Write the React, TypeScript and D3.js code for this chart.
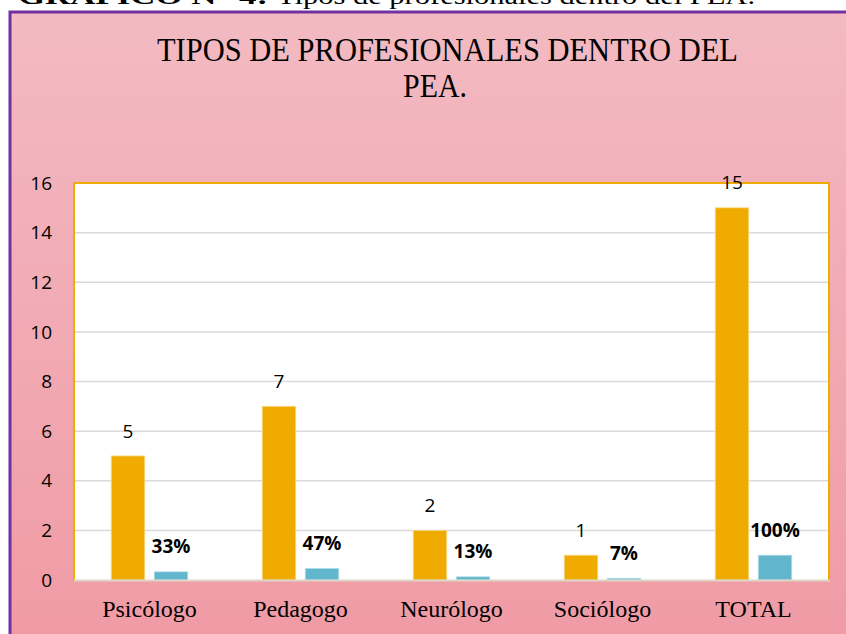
import React, { useEffect, useRef } from 'react';
import * as d3 from 'd3';

const categories = ['Psicólogo', 'Pedagogo', 'Neurólogo', 'Sociólogo', 'TOTAL'];
const counts = [5, 7, 2, 1, 15];
const shares = [0.33, 0.47, 0.13, 0.07, 1];
const shareLabels = ['33%', '47%', '13%', '7%', '100%'];
const yTicks = [0, 2, 4, 6, 8, 10, 12, 14, 16];

const App = () => {
  const svgRef = useRef<SVGSVGElement | null>(null);

  useEffect(() => {
    const W = 846;
    const H = 634;
    const plot = { left: 74, right: 829, top: 183, bottom: 580 };

    const svg = d3.select(svgRef.current).attr('width', W).attr('height', H).html('');

    // background gradient
    const defs = svg.append('defs');
    const grad = defs
      .append('linearGradient')
      .attr('id', 'bg')
      .attr('x1', 0)
      .attr('y1', 0)
      .attr('x2', 0)
      .attr('y2', 1);
    grad.append('stop').attr('offset', '0%').attr('stop-color', '#f3bac2');
    grad.append('stop').attr('offset', '100%').attr('stop-color', '#f09ba5');

    svg.append('rect').attr('width', W).attr('height', H).attr('fill', '#fff');

    // caption (cut off at top, as in the page it came from)
    svg
      .append('text')
      .attr('x', 18)
      .attr('y', 4)
      .attr('font-family', 'Liberation Serif, serif')
      .attr('font-size', 24)
      .attr('font-weight', 'bold')
      .attr('textLength', 250)
      .attr('lengthAdjust', 'spacingAndGlyphs')
      .text('GRÁFICO N° 4:');
    svg
      .append('text')
      .attr('x', 277)
      .attr('y', 4)
      .attr('font-family', 'Liberation Serif, serif')
      .attr('font-size', 24)
      .attr('textLength', 478)
      .attr('lengthAdjust', 'spacingAndGlyphs')
      .text('Tipos de profesionales dentro del PEA.');

    svg
      .append('rect')
      .attr('x', 10)
      .attr('y', 12)
      .attr('width', W - 10)
      .attr('height', H - 12)
      .attr('fill', 'url(#bg)');
    svg
      .append('path')
      .attr('d', `M10,${H} L10,12 L${W},12`)
      .attr('fill', 'none')
      .attr('stroke', '#7030a0')
      .attr('stroke-width', 3);

    // title, squeezed horizontally like the original
    svg
      .append('text')
      .attr('x', 157)
      .attr('y', 61)
      .attr('font-family', 'Liberation Serif, serif')
      .attr('font-size', 33)
      .attr('textLength', 581)
      .attr('lengthAdjust', 'spacingAndGlyphs')
      .text('TIPOS DE PROFESIONALES DENTRO DEL');
    svg
      .append('text')
      .attr('x', 403)
      .attr('y', 97)
      .attr('font-family', 'Liberation Serif, serif')
      .attr('font-size', 33)
      .attr('textLength', 64)
      .attr('lengthAdjust', 'spacingAndGlyphs')
      .text('PEA.');

    // scales
    const x = d3.scaleBand().domain(categories).range([plot.left, plot.right]);
    const y = d3.scaleLinear().domain([0, 16]).range([plot.bottom, plot.top]);
    const barW = 33.5;
    const offset = 21.5;

    svg
      .append('rect')
      .attr('x', plot.left)
      .attr('y', plot.top)
      .attr('width', plot.right - plot.left)
      .attr('height', plot.bottom - plot.top)
      .attr('fill', '#fff');

    // gridlines
    svg
      .append('g')
      .selectAll('line')
      .data(yTicks.filter(t => t > 0 && t < 16))
      .join('line')
      .attr('x1', plot.left)
      .attr('x2', plot.right)
      .attr('y1', d => y(d))
      .attr('y2', d => y(d))
      .attr('stroke', '#d9d9d9')
      .attr('stroke-width', 1.5);

    // y tick labels
    svg
      .append('g')
      .selectAll('text')
      .data(yTicks)
      .join('text')
      .attr('x', 52)
      .attr('y', d => y(d))
      .attr('dy', '0.35em')
      .attr('text-anchor', 'end')
      .attr('font-family', 'Open Sans, sans-serif')
      .attr('font-size', 19)
      .attr('fill', '#000')
      .text(d => d);

    // bars
    svg
      .append('g')
      .selectAll('rect')
      .data(categories)
      .join('rect')
      .attr('x', d => x(d)! + x.bandwidth() / 2 - offset - barW / 2)
      .attr('y', (d, i) => y(counts[i]))
      .attr('width', barW)
      .attr('height', (d, i) => plot.bottom - y(counts[i]))
      .attr('fill', '#f0ab00')
      .attr('stroke', '#f8d98a')
      .attr('stroke-width', 0.8);

    svg
      .append('g')
      .selectAll('rect')
      .data(categories)
      .join('rect')
      .attr('x', d => x(d)! + x.bandwidth() / 2 + offset - barW / 2)
      .attr('y', (d, i) => y(shares[i]))
      .attr('width', barW)
      .attr('height', (d, i) => plot.bottom - y(shares[i]))
      .attr('fill', '#61b5cd')
      .attr('stroke', '#b5dfea')
      .attr('stroke-width', 0.8);

    // plot border
    svg
      .append('path')
      .attr('d', `M${plot.left},${plot.bottom} L${plot.left},${plot.top} L${plot.right},${plot.top} L${plot.right},${plot.bottom}`)
      .attr('fill', 'none')
      .attr('stroke', '#f0ab00')
      .attr('stroke-width', 2);
    svg
      .append('line')
      .attr('x1', plot.left)
      .attr('x2', plot.right + 1)
      .attr('y1', plot.bottom + 0.5)
      .attr('y2', plot.bottom + 0.5)
      .attr('stroke', '#ddd6c8')
      .attr('stroke-width', 2);

    // value labels
    svg
      .append('g')
      .selectAll('text')
      .data(categories)
      .join('text')
      .attr('x', d => x(d)! + x.bandwidth() / 2 - offset)
      .attr('y', (d, i) => y(counts[i]) - 25)
      .attr('dy', '0.35em')
      .attr('text-anchor', 'middle')
      .attr('font-family', 'Open Sans, sans-serif')
      .attr('font-size', 19)
      .attr('fill', '#000')
      .text((d, i) => counts[i]);

    svg
      .append('g')
      .selectAll('text')
      .data(categories)
      .join('text')
      .attr('x', d => x(d)! + x.bandwidth() / 2 + offset)
      .attr('y', (d, i) => y(shares[i]) - 25)
      .attr('dy', '0.35em')
      .attr('text-anchor', 'middle')
      .attr('font-family', 'Open Sans, sans-serif')
      .attr('font-weight', 'bold')
      .attr('font-size', 19)
      .attr('fill', '#000')
      .text((d, i) => shareLabels[i]);

    // category labels
    svg
      .append('g')
      .selectAll('text')
      .data(categories)
      .join('text')
      .attr('x', d => x(d)! + x.bandwidth() / 2)
      .attr('y', 617)
      .attr('text-anchor', 'middle')
      .attr('font-family', 'Liberation Serif, serif')
      .attr('font-size', 24)
      .attr('fill', '#000')
      .text(d => d);
  }, []);

  return <svg ref={svgRef} style={{ position: 'absolute', left: 0, top: 0 }}></svg>;
};

export default App;
